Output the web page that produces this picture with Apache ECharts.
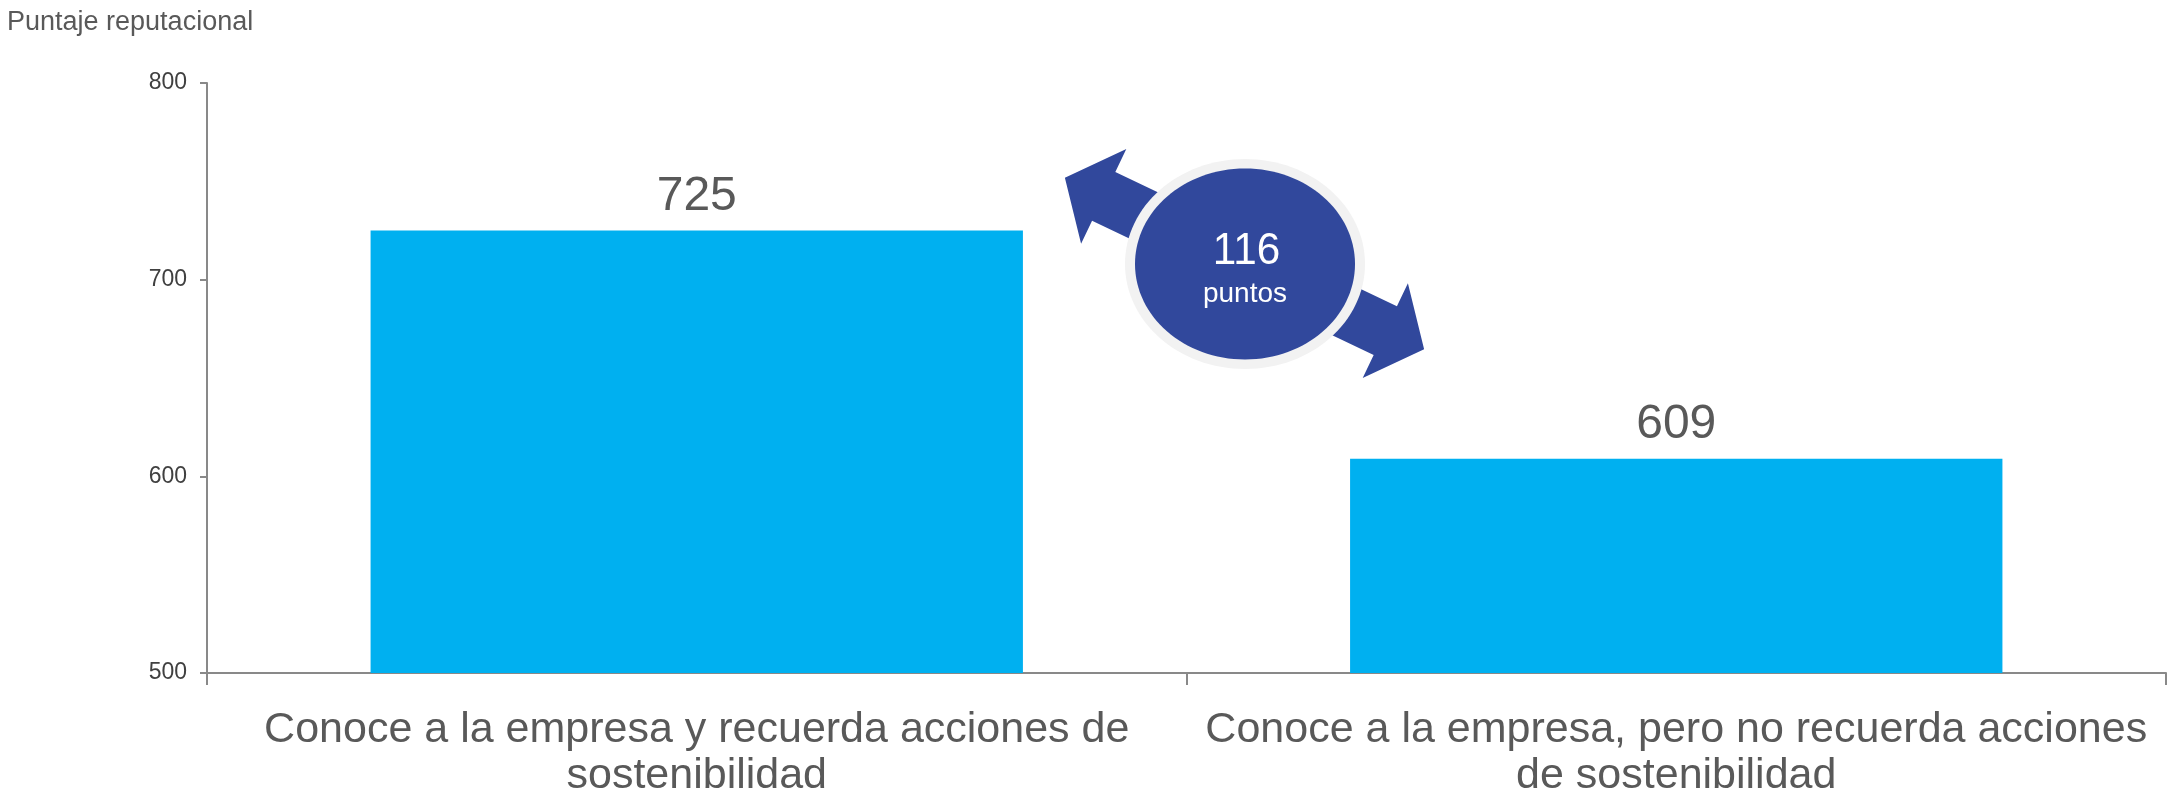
<!DOCTYPE html>
<html>
<head>
<meta charset="utf-8">
<style>
  html, body { margin: 0; padding: 0; background: #ffffff; }
  #chart { width: 2170px; height: 792px; }
</style>
<script src="https://cdn.jsdelivr.net/npm/echarts@6/dist/echarts.min.js"></script>
</head>
<body>
<div id="chart"></div>
<script>
// Reputational score by awareness of sustainability actions
const categories = [
  'Conoce a la empresa y recuerda acciones de\nsostenibilidad',
  'Conoce a la empresa, pero no recuerda acciones\nde sostenibilidad'
];
const scores = [725, 609];
const yTicks = [500, 600, 700, 800];
const axisTitle = 'Puntaje reputacional';
const diffUnit = 'puntos';

const FONT = '"Liberation Sans", Arial, sans-serif';
const BAR_COLOR = '#00B0F0';
const BADGE_COLOR = '#31489C';
const AXIS_COLOR = '#898989';

const chart = echarts.init(document.getElementById('chart'), null, { renderer: 'canvas' });

// Difference between the two groups, shown in the badge
const diff = scores[0] - scores[1];

// Double-headed block arrow, centred on (cx, cy), tilted by angle (radians)
function arrowPoints(cx, cy, angle, halfLen, headLen, halfShaft, halfHead) {
  const local = [
    [-halfLen, 0],
    [-halfLen + headLen, -halfHead],
    [-halfLen + headLen, -halfShaft],
    [halfLen - headLen, -halfShaft],
    [halfLen - headLen, -halfHead],
    [halfLen, 0],
    [halfLen - headLen, halfHead],
    [halfLen - headLen, halfShaft],
    [-halfLen + headLen, halfShaft],
    [-halfLen + headLen, halfHead]
  ];
  const c = Math.cos(angle), s = Math.sin(angle);
  return local.map(([u, v]) => [cx + u * c - v * s, cy + u * s + v * c]);
}

const badgeX = 1245, badgeY = 264;

chart.setOption({
  animation: false,
  backgroundColor: '#ffffff',
  title: {
    text: axisTitle,
    left: 2,
    top: 4,
    textStyle: { fontFamily: FONT, fontSize: 27, fontWeight: 'normal', color: '#595959' }
  },
  grid: { left: 207, right: 4, top: 83, bottom: 119, containLabel: false, outerBoundsMode: 'none' },
  xAxis: {
    type: 'category',
    data: categories,
    axisLine: { show: true, lineStyle: { color: AXIS_COLOR, width: 2 } },
    axisTick: { show: true, alignWithLabel: false, length: 12, lineStyle: { color: AXIS_COLOR, width: 2 } },
    axisLabel: {
      interval: 0,
      margin: 34,
      fontFamily: FONT,
      fontSize: 43,
      lineHeight: 46,
      color: '#595959',
      align: 'center'
    },
    splitLine: { show: false }
  },
  yAxis: {
    type: 'value',
    min: yTicks[0],
    max: yTicks[yTicks.length - 1],
    interval: yTicks[1] - yTicks[0],
    axisLine: { show: true, lineStyle: { color: AXIS_COLOR, width: 2 } },
    axisTick: { show: true, length: 7, lineStyle: { color: AXIS_COLOR, width: 2 } },
    axisLabel: { margin: 20, fontFamily: FONT, fontSize: 23, color: '#404040' },
    splitLine: { show: false }
  },
  series: [{
    type: 'bar',
    data: scores,
    barCategoryGap: '33.4%',
    itemStyle: { color: BAR_COLOR },
    label: {
      show: true,
      position: 'top',
      distance: 10,
      fontFamily: FONT,
      fontSize: 48,
      color: '#595959'
    }
  }],
  graphic: [
    {
      type: 'polygon',
      z: 100,
      shape: { points: arrowPoints(1244.5, 263.5, 25.5 * Math.PI / 180, 199, 43, 27, 52.5) },
      style: { fill: BADGE_COLOR }
    },
    {
      type: 'ellipse',
      z: 101,
      shape: { cx: badgeX, cy: badgeY, rx: 120, ry: 105 },
      style: { fill: '#F2F2F2' }
    },
    {
      type: 'ellipse',
      z: 102,
      shape: { cx: badgeX, cy: badgeY, rx: 110, ry: 95.5 },
      style: { fill: BADGE_COLOR }
    },
    {
      type: 'text',
      z: 103,
      x: 1246.5, y: 230,
      scaleX: 0.96,
      style: {
        x: 0, y: 0,
        text: String(diff),
        fontFamily: FONT, fontSize: 44,
        fill: '#ffffff',
        align: 'center', verticalAlign: 'top'
      }
    },
    {
      type: 'text',
      z: 103,
      x: 1245, y: 280,
      style: {
        x: 0, y: 0,
        text: diffUnit,
        fontFamily: FONT, fontSize: 28,
        fill: '#ffffff',
        align: 'center', verticalAlign: 'top'
      }
    }
  ]
});
</script>
</body>
</html>
